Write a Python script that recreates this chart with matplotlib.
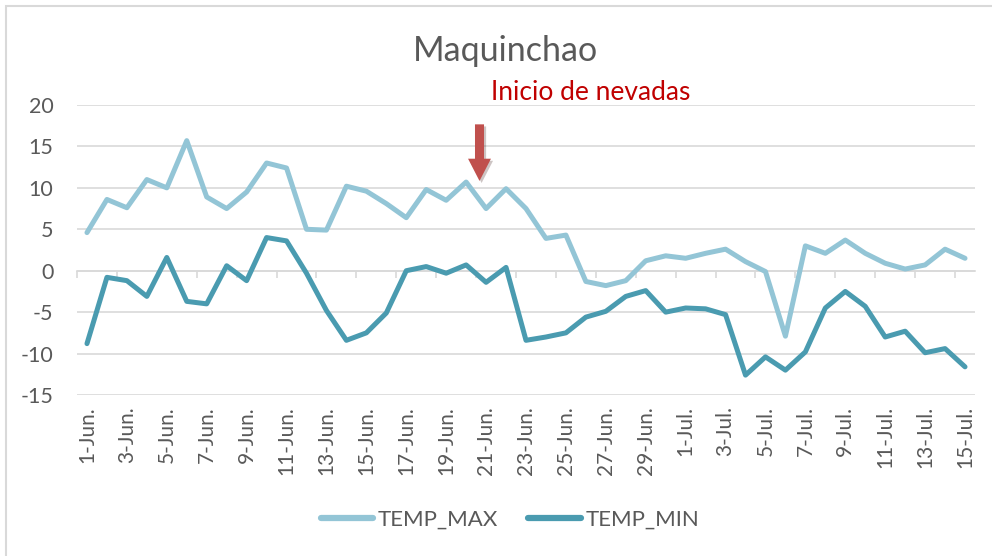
import matplotlib
matplotlib.use("Agg")
import matplotlib.pyplot as plt
from matplotlib.patches import Rectangle, FancyArrowPatch
import matplotlib.patheffects as pe

# ---------------- data ----------------
dates = ([f"{d}-Jun." for d in range(1, 31)] + [f"{d}-Jul." for d in range(1, 16)])

temp_max = [4.6, 8.6, 7.6, 11.0, 10.0, 15.7, 8.9, 7.5, 9.5, 13.0,
            12.4, 5.0, 4.9, 10.2, 9.6, 8.1, 6.4, 9.8, 8.5, 10.7,
            7.5, 9.9, 7.5, 3.9, 4.3, -1.3, -1.8, -1.2, 1.2, 1.8,
            1.5, 2.1, 2.6, 1.1, -0.1, -7.9, 3.0, 2.1, 3.7, 2.1,
            0.9, 0.2, 0.7, 2.6, 1.5]

temp_min = [-8.8, -0.8, -1.2, -3.1, 1.6, -3.7, -4.0, 0.6, -1.2, 4.0,
            3.6, -0.3, -4.8, -8.4, -7.5, -5.1, 0.0, 0.5, -0.3, 0.7,
            -1.4, 0.4, -8.4, -8.0, -7.5, -5.6, -4.9, -3.1, -2.4, -5.0,
            -4.5, -4.6, -5.3, -12.6, -10.4, -12.0, -9.8, -4.5, -2.5, -4.3,
            -8.0, -7.3, -9.9, -9.4, -11.6]

y_ticks = [-15, -10, -5, 0, 5, 10, 15, 20]
title = "Maquinchao"
note = "Inicio de nevadas"
series_names = ["TEMP_MAX", "TEMP_MIN"]

# ---------------- style ----------------
plt.rcParams['font.family'] = ['Lato', 'DejaVu Sans']
TXT = "#595959"
GRID = "#D9D9D9"
C_MAX = "#93C5D6"
C_MIN = "#4A9BB0"

W, H = 992, 556
fig = plt.figure(figsize=(W / 100, H / 100), dpi=100)
ax = fig.add_axes([77 / W, 1 - 395 / H, 898 / W, 290 / H])

x = list(range(len(dates)))
ax.plot(x, temp_max, color=C_MAX, lw=3.6, solid_capstyle="round",
        solid_joinstyle="round", label=series_names[0], zorder=3)
ax.plot(x, temp_min, color=C_MIN, lw=3.6, solid_capstyle="round",
        solid_joinstyle="round", label=series_names[1], zorder=3)

ax.set_xlim(-0.5, len(dates) - 0.5)
ax.set_ylim(min(y_ticks), max(y_ticks))
ax.set_yticks(y_ticks)
ax.yaxis.grid(True, color=GRID, lw=1.2)
ax.set_axisbelow(True)
for s in ["left", "right", "top"]:
    ax.spines[s].set_visible(False)
ax.spines["bottom"].set_position(("data", 0))
ax.spines["bottom"].set_color(GRID)
ax.spines["bottom"].set_linewidth(1.2)
ax.tick_params(axis="y", length=0, pad=17, labelsize=15.5, labelcolor=TXT)
ax.set_yticklabels([str(v) for v in y_ticks])

# category boundary tick marks on the zero line
ax.set_xticks([i - 0.5 for i in range(0, len(dates), 2)])
ax.set_xticklabels([])
ax.tick_params(axis="x", length=5, width=1.2, color=GRID, direction="out")

# date labels at the bottom of the plot
sec = ax.secondary_xaxis("bottom")
sec.set_xticks(x[::2])
sec.set_xticklabels(dates[::2], rotation=90, va="top", ha="center")
sec.tick_params(length=0, pad=8, labelsize=15, labelcolor=TXT)
sec.spines["bottom"].set_visible(False)

# title and annotation
fig.text(505 / W, 1 - 51 / H, title, ha="center", va="center",
         fontsize=24.5, color=TXT)
fig.text(591 / W, 1 - 93 / H, note, ha="center", va="center",
         fontsize=19, color="#C00000")

arrow = FancyArrowPatch((19.67, 18.0), (19.67, 10.5),
                        arrowstyle="simple,head_length=16,head_width=16.5,tail_width=6.5",
                        mutation_scale=1, color="#C0504D", lw=0, zorder=5)
arrow.set_path_effects([pe.SimplePatchShadow(offset=(1.5, -1.5), alpha=0.25),
                        pe.Normal()])
ax.add_patch(arrow)

# legend
leg = fig.legend(loc="center", bbox_to_anchor=(510 / W, 1 - 520 / H), ncol=2,
                 frameon=False, fontsize=16, handlelength=2.35,
                 handletextpad=0.22, columnspacing=1.35)
for t in leg.get_texts():
    t.set_color(TXT)
for h in leg.legend_handles:
    h.set_linewidth(4.5)

# chart-area border
fig.patches.append(Rectangle((6 / W, -0.1), 2.0, 1.1 - 6 / H,
                             transform=fig.transFigure, fill=False,
                             edgecolor=GRID, lw=1.5, zorder=0))

fig.savefig("out.png", dpi=100)
